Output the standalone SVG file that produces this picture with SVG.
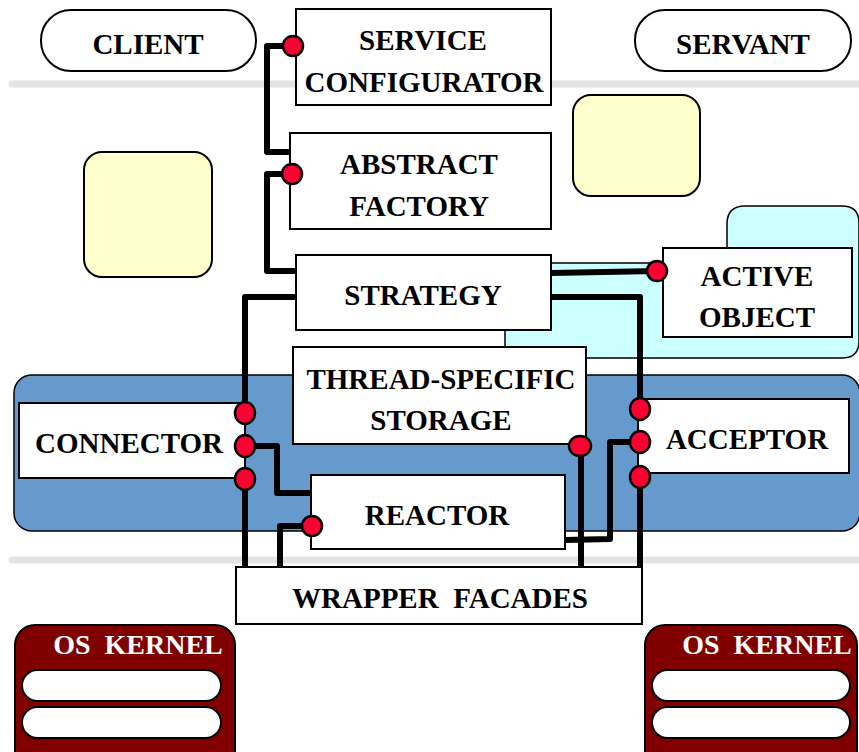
<svg xmlns="http://www.w3.org/2000/svg" width="859" height="752" viewBox="0 0 859 752">
<defs>
<style>
.bx{fill:#fff;stroke:#000;stroke-width:2}
.pill{fill:#fff;stroke:#000;stroke-width:2}
.t{font-family:"Liberation Serif","Times New Roman",serif;font-weight:bold;font-size:29px;fill:#000;text-anchor:middle}
.tw{font-family:"Liberation Serif","Times New Roman",serif;font-weight:bold;font-size:28px;fill:#fff;text-anchor:middle}
.sep{stroke:#e3e3e3;stroke-width:7;stroke-linecap:round;fill:none}
.note{fill:#ffffcc;stroke:#000;stroke-width:2}
.ln{fill:none;stroke:#000;stroke-width:6;stroke-linejoin:round}
.dot{fill:#ff0033;stroke:#000;stroke-width:2.5}
.os{fill:#800000;stroke:#000;stroke-width:2}
</style>
</defs>
<rect width="859" height="752" fill="#fff"/>
<g id="separators">
<line class="sep" x1="12" y1="84" x2="859" y2="84"/>
<line class="sep" x1="12" y1="560" x2="859" y2="560"/>
</g>
<g id="client"><rect class="pill" x="41" y="10" width="215" height="61" rx="30"/><text class="t" x="148" y="54">CLIENT</text></g>
<g id="servant"><rect class="pill" x="635" y="10" width="216" height="61" rx="30"/><text class="t" x="743" y="54">SERVANT</text></g>
<g id="note-left"><rect class="note" x="84" y="152" width="128" height="125" rx="18"/></g>
<g id="note-right"><rect class="note" x="573" y="95" width="127" height="101" rx="18"/></g>
<g id="cyan-region"><path d="M505,263 H727 V224 Q727,206 745,206 H842 Q859,206 859,223 V341 Q859,358 842,358 H505 Z" fill="#ccffff" stroke="#000" stroke-width="1.5"/></g>
<g id="blue-region"><rect x="14" y="375" width="846" height="156" rx="18" fill="#6699cc" stroke="#000" stroke-width="1.5"/></g>
<g id="service-configurator"><rect class="bx" x="296" y="9" width="255" height="96"/><text class="t" x="423" y="50">SERVICE</text><text class="t" x="424" y="92">CONFIGURATOR</text></g>
<g id="abstract-factory"><rect class="bx" x="290" y="133" width="261" height="96"/><text class="t" x="419" y="174">ABSTRACT</text><text class="t" x="419" y="216">FACTORY</text></g>
<g id="strategy"><rect class="bx" x="296" y="255" width="255" height="75"/><text class="t" x="423" y="305">STRATEGY</text></g>
<g id="active-object"><rect class="bx" x="663" y="248" width="189" height="89"/><text class="t" x="757" y="286">ACTIVE</text><text class="t" x="757" y="327">OBJECT</text></g>
<g id="thread-specific-storage"><rect class="bx" x="293" y="347" width="293" height="97"/><text class="t" x="441" y="389">THREAD-SPECIFIC</text><text class="t" x="441" y="430">STORAGE</text></g>
<g id="reactor"><rect class="bx" x="311" y="475" width="254" height="74"/><text class="t" x="437" y="525">REACTOR</text></g>
<g id="wrapper-facades"><rect class="bx" x="236" y="567" width="406" height="57"/><text class="t" x="440" y="608" xml:space="preserve">WRAPPER  FACADES</text></g>
<g id="connector"><rect class="bx" x="19" y="403" width="226" height="75"/><text class="t" x="129" y="453">CONNECTOR</text></g>
<g id="acceptor"><rect class="bx" x="638" y="399" width="211" height="74"/><text class="t" x="747" y="449">ACCEPTOR</text></g>
<g id="os-kernel-left"><rect class="os" x="15" y="625" width="220" height="145" rx="20"/><text class="tw" x="138" y="654" xml:space="preserve">OS  KERNEL</text><rect class="pill" x="22" y="670" width="199" height="31" rx="15.5"/><rect class="pill" x="22" y="707" width="199" height="31" rx="15.5"/></g>
<g id="os-kernel-right"><rect class="os" x="645" y="625" width="212" height="145" rx="20"/><text class="tw" x="767" y="654" xml:space="preserve">OS  KERNEL</text><rect class="pill" x="652" y="670" width="198" height="31" rx="15.5"/><rect class="pill" x="652" y="707" width="198" height="31" rx="15.5"/></g>
<g id="connectors">
<polyline class="ln" points="293,46 267,46 267,152 290,152"/>
<polyline class="ln" points="292,174 267,174 267,271 296,271"/>
<polyline class="ln" points="296,297 245,297 245,413"/>
<line class="ln" x1="245" y1="479" x2="245" y2="567"/>
<polyline class="ln" points="245,446 277,446 277,493 311,493"/>
<polyline class="ln" points="312,526 280,526 280,567"/>
<line class="ln" x1="581" y1="446" x2="581" y2="567"/>
<polyline class="ln" points="565,540 610,539 610,442 640,442"/>
<polyline class="ln" points="551,297 640,297 640,409"/>
<line class="ln" x1="640" y1="477" x2="640" y2="567"/>
<polyline class="ln" points="551,273 657,271"/>
<g id="ports">
<ellipse class="dot" cx="293" cy="46" rx="10" ry="10"/>
<ellipse class="dot" cx="292" cy="174" rx="10" ry="10"/>
<ellipse class="dot" cx="657" cy="271" rx="10" ry="10"/>
<ellipse class="dot" cx="245" cy="413" rx="10" ry="11"/>
<ellipse class="dot" cx="245" cy="446" rx="10" ry="11"/>
<ellipse class="dot" cx="245" cy="479" rx="10" ry="11"/>
<ellipse class="dot" cx="312" cy="526" rx="10" ry="10"/>
<ellipse class="dot" cx="580" cy="446" rx="11" ry="10"/>
<ellipse class="dot" cx="640" cy="409" rx="10" ry="11"/>
<ellipse class="dot" cx="640" cy="442" rx="10" ry="11"/>
<ellipse class="dot" cx="640" cy="477" rx="10" ry="11"/>
</g>
</g>
</svg>
